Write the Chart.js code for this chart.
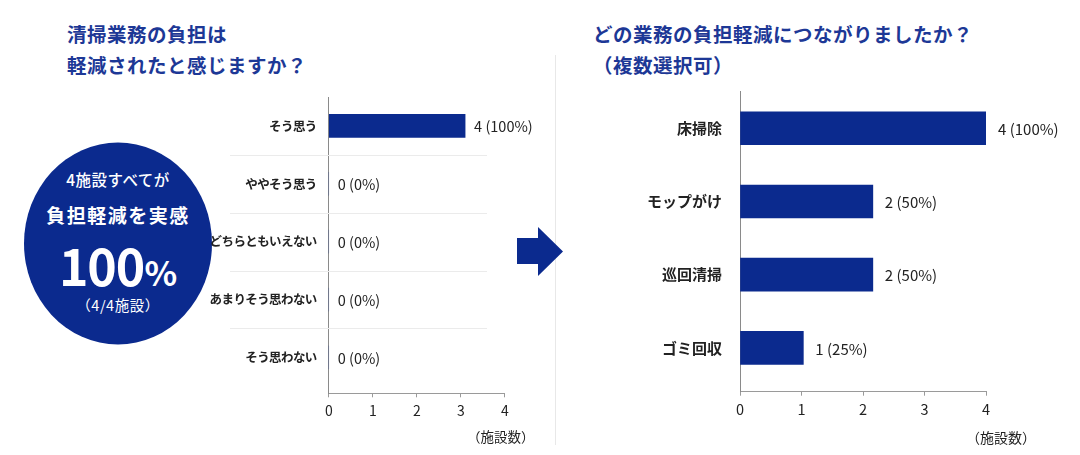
<!DOCTYPE html>
<html lang="ja">
<head>
<meta charset="utf-8">
<script src="https://cdn.jsdelivr.net/npm/chart.js@4/dist/chart.umd.min.js"></script>
<style>
  html, body { margin: 0; padding: 0; background: #ffffff; }
  body { width: 1080px; height: 455px; position: relative; overflow: hidden;
         font-family: "Noto Sans CJK JP", "Noto Sans", sans-serif; color: #222; }
  .title { position: absolute; color: #1d3896; font-weight: bold; font-size: 19.5px;
           line-height: 31px; letter-spacing: 0.5px; white-space: nowrap; }
  .unit { position: absolute; font-size: 13.5px; color: #222; white-space: nowrap; }
  .box { position: absolute; }
  #divider { position: absolute; left: 555px; top: 55px; width: 1px; height: 390px; background: #e8e8e8; }
  .circle-text { position: absolute; left: 24px; width: 188px; text-align: center; color: #fff; white-space: nowrap; }
</style>
</head>
<body>
<script>
// ---- data ----
const leftCategories = ["そう思う", "ややそう思う", "どちらともいえない", "あまりそう思わない", "そう思わない"];
const leftCounts = [4, 0, 0, 0, 0];
const leftPercents = [100, 0, 0, 0, 0];
const leftBarLengths = [3.1, 0, 0, 0, 0];      // drawn bar lengths as they appear
const rightCategories = ["床掃除", "モップがけ", "巡回清掃", "ゴミ回収"];
const rightCounts = [4, 2, 2, 1];
const rightPercents = [100, 50, 50, 25];
const rightBarLengths = [4, 2.16, 2.16, 1.03]; // drawn bar lengths as they appear
const xTicks = [0, 1, 2, 3, 4];
const leftTitle = ["清掃業務の負担は", "軽減されたと感じますか？"];
const rightTitle = ["どの業務の負担軽減につながりましたか？", "（複数選択可）"];
const unitLabel = "（施設数）";
const circleLines = ["4施設すべてが", "負担軽減を実感", "100", "%", "（4/4施設）"];
</script>

<div class="title" style="left:67px; top:18px;" id="lt"></div>
<div class="title" style="left:593px; top:18px;" id="rt"></div>
<div id="divider"></div>

<svg width="1080" height="455" style="position:absolute;left:0;top:0;">
  <ellipse cx="118" cy="243.5" rx="94" ry="101" fill="#0b2a8e"></ellipse>
  <polygon points="517,238 538,238 538,227 563,251.5 538,276 538,264 517,264" fill="#0b2a8e"></polygon>
</svg>
<div class="circle-text" id="c1" style="top:168px; font-size:15.5px; font-weight:500; letter-spacing:0.5px;"></div>
<div class="circle-text" id="c2" style="top:201px; font-size:19px; font-weight:bold; letter-spacing:1.5px;"></div>
<div class="circle-text" id="c3" style="top:234px; font-weight:bold; line-height:60px;"></div>
<div class="circle-text" id="c4" style="top:294px; font-size:14.5px; letter-spacing:0.5px;"></div>

<div class="box" style="left:200px; top:90px; width:340px; height:340px;"><canvas id="leftChart"></canvas></div>
<div class="box" style="left:580px; top:84px; width:480px; height:346px;"><canvas id="rightChart"></canvas></div>
<div class="unit" id="lu" style="left:467px; top:426px;"></div>
<div class="unit" id="ru" style="left:966px; top:427px; font-size:14px;"></div>

<script>
document.getElementById('lt').innerHTML = leftTitle.join('<br>');
document.getElementById('rt').innerHTML = rightTitle.join('<br>');
document.getElementById('c1').textContent = circleLines[0];
document.getElementById('c2').textContent = circleLines[1];
document.getElementById('c3').innerHTML = '<span style="font-size:50px;letter-spacing:-1px;">' + circleLines[2] +
  '</span><span style="font-size:34px;">' + circleLines[3] + '</span>';
document.getElementById('c4').textContent = circleLines[4];
document.getElementById('lu').textContent = unitLabel;
document.getElementById('ru').textContent = unitLabel;

const FONT = '"Noto Sans CJK JP", "Noto Sans", sans-serif';
const BAR = '#0b2a8e';

const valueLabelPlugin = {
  id: 'valueLabels',
  beforeDraw(chart, args, opts) {
    if ('letterSpacing' in chart.ctx) chart.ctx.letterSpacing = opts.labelSpacing || '0px';
  },
  beforeDatasetsDraw(chart) {
    if ('letterSpacing' in chart.ctx) chart.ctx.letterSpacing = '0px';
  },
  afterDatasetsDraw(chart, args, opts) {
    const ctx = chart.ctx;
    const meta = chart.getDatasetMeta(0);
    ctx.save();
    ctx.font = opts.size + 'px ' + FONT;
    ctx.fillStyle = '#222';
    ctx.textAlign = 'left';
    ctx.textBaseline = 'middle';
    meta.data.forEach((el, i) => {
      const txt = opts.counts[i] + ' (' + opts.percents[i] + '%)';
      ctx.fillText(txt, el.x + opts.gap, el.y + 1);
    });
    ctx.restore();
  }
};

const separatorPlugin = {
  id: 'separators',
  beforeDatasetsDraw(chart, args, opts) {
    if (!opts.enabled) return;
    const ctx = chart.ctx;
    const y = chart.scales.y;
    ctx.save();
    ctx.strokeStyle = '#ebebeb';
    ctx.lineWidth = 1;
    for (let i = 0; i < opts.count - 1; i++) {
      const py = Math.round(y.getPixelForValue(i + 0.5)) + 0.5;
      ctx.beginPath();
      ctx.moveTo(opts.x0, py);
      ctx.lineTo(opts.x1, py);
      ctx.stroke();
    }
    ctx.restore();
  }
};

function makeChart(id, cats, lengths, counts, percents, cfg) {
  return new Chart(document.getElementById(id), {
    type: 'bar',
    data: {
      datasets: [{
        data: lengths.map((v, i) => ({ x: v, y: i })),
        backgroundColor: BAR,
        barThickness: cfg.thickness,
        borderWidth: 0
      }]
    },
    options: {
      indexAxis: 'y',
      responsive: true,
      maintainAspectRatio: false,
      animation: false,
      layout: { padding: { top: cfg.padTop, right: cfg.padRight, left: 0, bottom: 0 } },
      plugins: {
        legend: { display: false },
        tooltip: { enabled: false },
        valueLabels: { counts, percents, size: cfg.valueSize, gap: cfg.gap, labelSpacing: cfg.labelSpacing },
        separators: { enabled: cfg.separators, count: cats.length, x0: cfg.sepX0, x1: cfg.sepX1 }
      },
      scales: {
        x: {
          type: 'linear',
          min: xTicks[0],
          max: xTicks[xTicks.length - 1],
          afterBuildTicks: (s) => { s.ticks = xTicks.map(v => ({ value: v })); },
          afterFit: (s) => { s.height = cfg.xHeight; s.paddingLeft = 0; s.paddingRight = 0; },
          grid: { drawOnChartArea: false, drawTicks: true, tickLength: 4, color: '#9a9a9a' },
          border: { display: true, color: '#9a9a9a', width: 1 },
          ticks: { color: '#222', font: { family: FONT, size: cfg.tickSize }, padding: cfg.tickPad, maxRotation: 0 }
        },
        y: {
          type: 'linear',
          reverse: true,
          offset: false,
          min: -0.5,
          max: cfg.yMax,
          afterBuildTicks: (s) => {
            const t = [{ value: -0.5 }];
            cats.forEach((c, i) => t.push({ value: i }));
            t.push({ value: cfg.yMax });
            s.ticks = t;
          },
          afterFit: (s) => { s.width = cfg.yWidth; s.paddingTop = 0; s.paddingBottom = 0; },
          grid: { display: false, drawTicks: false, offset: false },
          border: { display: true, color: '#8a8a8a', width: 1 },
          ticks: {
            autoSkip: false,
            color: '#222',
            padding: cfg.labelPad,
            font: { family: FONT, size: cfg.labelSize, weight: cfg.labelWeight },
            callback: (v) => (Number.isInteger(v) && v >= 0 && v < cats.length) ? cats[v] : ''
          }
        }
      }
    },
    plugins: [valueLabelPlugin, separatorPlugin]
  });
}

makeChart('leftChart', leftCategories, leftBarLengths, leftCounts, leftPercents, {
  thickness: 23, padTop: 7, padRight: 35.3, yWidth: 128.7, xHeight: 36.7, yMax: 4.62,
  valueSize: 14.5, gap: 9, tickSize: 14, tickPad: 5, labelPad: 12, labelSize: 12.5, labelWeight: 'bold',
  labelSpacing: '-0.6px', separators: true, sepX0: 30, sepX1: 287
});

makeChart('rightChart', rightCategories, rightBarLengths, rightCounts, rightPercents, {
  thickness: 33, padTop: 7.7, padRight: 74, yWidth: 160, xHeight: 38.3, yMax: 3.6,
  valueSize: 15, gap: 12, tickSize: 14.5, tickPad: 5, labelPad: 18, labelSize: 15, labelWeight: 'bold',
  labelSpacing: '0px', separators: false, sepX0: 0, sepX1: 0
});
</script>
</body>
</html>
